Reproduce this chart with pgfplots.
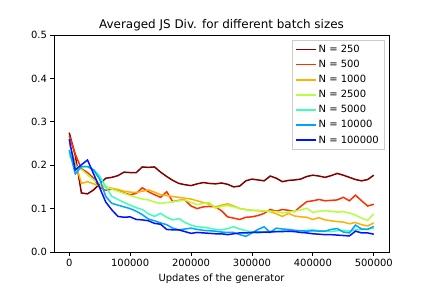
\documentclass[border=0pt]{standalone}
\usepackage{fontspec}
\setmainfont{DejaVu Sans}
\usepackage{pgfplots}
\pgfplotsset{compat=1.18}
\usepackage{pgfplotstable}
\definecolor{jetA}{rgb}{0.5,0,0}
\definecolor{jetB}{rgb}{1,0.19,0}
\definecolor{jetC}{rgb}{1,0.69,0}
\definecolor{jetD}{rgb}{0.71,1,0.25}
\definecolor{jetE}{rgb}{0.25,1,0.71}
\definecolor{jetF}{rgb}{0,0.64,1}
\definecolor{jetG}{rgb}{0,0.07,1}
\definecolor{legframe}{rgb}{0.8,0.8,0.8}
\pgfplotstableread{
x a b c d e f g
0 .275 .268 .250 .223 .230 .235 .260
10000 .222 .225 .205 .197 .197 .180 .189
20000 .136 .192 .158 .190 .197 .197 .201
30000 .134 .183 .162 .178 .197 .197 .212
40000 .143 .170 .157 .166 .190 .189 .180
50000 .157 .149 .152 .158 .175 .168 .148
60000 .170 .142 .150 .150 .150 .128 .115
70000 .172 .145 .147 .145 .128 .112 .097
80000 .176 .142 .144 .140 .121 .108 .082
90000 .184 .136 .140 .135 .114 .104 .080
100000 .183 .132 .138 .130 .108 .100 .081
110000 .183 .135 .137 .126 .102 .094 .075
120000 .196 .148 .140 .122 .098 .086 .074
130000 .195 .139 .143 .120 .088 .076 .072
140000 .196 .132 .138 .115 .082 .072 .066
150000 .184 .126 .132 .112 .089 .067 .064
160000 .174 .139 .130 .114 .080 .063 .052
170000 .165 .116 .128 .116 .074 .055 .051
180000 .158 .119 .126 .118 .077 .051 .051
190000 .155 .120 .124 .120 .068 .053 .047
200000 .153 .106 .122 .114 .062 .055 .043
210000 .157 .100 .118 .109 .058 .052 .045
220000 .160 .104 .114 .112 .057 .050 .044
230000 .158 .105 .110 .114 .055 .049 .043
240000 .157 .104 .104 .101 .052 .048 .042
250000 .159 .095 .108 .105 .051 .046 .042
260000 .156 .081 .111 .107 .054 .045 .040
270000 .150 .078 .106 .104 .058 .045 .042
280000 .152 .075 .100 .100 .053 .040 .044
290000 .164 .080 .098 .097 .049 .036 .044
300000 .168 .081 .096 .096 .046 .044 .045
310000 .166 .084 .095 .096 .043 .052 .046
320000 .164 .089 .094 .095 .046 .058 .046
330000 .175 .098 .093 .094 .048 .045 .046
340000 .170 .094 .088 .093 .047 .055 .047
350000 .162 .098 .082 .090 .049 .053 .047
360000 .165 .096 .089 .092 .047 .052 .048
370000 .166 .093 .083 .094 .048 .050 .047
380000 .168 .105 .081 .097 .049 .049 .045
390000 .174 .116 .080 .101 .050 .048 .044
400000 .177 .118 .075 .091 .051 .049 .042
410000 .175 .121 .079 .094 .049 .048 .041
420000 .172 .118 .074 .095 .048 .048 .040
430000 .176 .119 .072 .094 .047 .052 .040
440000 .181 .120 .070 .092 .049 .054 .039
450000 .177 .126 .069 .093 .050 .046 .038
460000 .172 .118 .065 .090 .048 .044 .037
470000 .167 .131 .068 .085 .051 .062 .048
480000 .164 .118 .063 .078 .052 .053 .044
490000 .167 .106 .060 .073 .053 .052 .044
500000 .177 .110 .067 .088 .055 .059 .041
}\datatable
\begin{document}
\begin{tikzpicture}
\begin{axis}[
  scale only axis,
  width=335bp, height=217bp,
  xmin=-25000, xmax=525000,
  ymin=0, ymax=0.5,
  xtick={0,100000,200000,300000,400000,500000},
  ytick={0,0.1,0.2,0.3,0.4,0.5},
  scaled x ticks=false,
  scaled y ticks=false,
  x tick label style={/pgf/number format/.cd,fixed,1000 sep={}},
  y tick label style={/pgf/number format/.cd,fixed,fixed zerofill,precision=1},
  /pgf/number format/assume math mode=true,
  tick align=outside,
  major tick length=3.5bp,
  xtick pos=bottom, ytick pos=left,
  tick style={black, line width=0.8bp},
  axis line style={line width=0.8bp},
  title={Averaged JS Div. for different batch sizes},
  title style={font=\large, yshift=-5bp},
  xlabel={Updates of the generator},
  xlabel style={yshift=-1bp},
  legend cell align=left,
  legend style={at={(1,1)}, anchor=north east, xshift=-5bp, yshift=-5bp,
    draw=legframe, fill=white, row sep=2.2bp, inner sep=3bp},
  legend image code/.code={\draw[#1] (0bp,0bp) -- (20bp,0bp);},
]
\addlegendimage{draw=jetA, line width=1.5bp}
\addlegendentry{N = 250}
\addlegendimage{draw=jetB, line width=1.5bp}
\addlegendentry{N = 500}
\addlegendimage{draw=jetC, line width=1.5bp}
\addlegendentry{N = 1000}
\addlegendimage{draw=jetD, line width=1.5bp}
\addlegendentry{N = 2500}
\addlegendimage{draw=jetE, line width=1.5bp}
\addlegendentry{N = 5000}
\addlegendimage{draw=jetF, line width=1.5bp}
\addlegendentry{N = 10000}
\addlegendimage{draw=jetG, line width=1.5bp}
\addlegendentry{N = 100000}
\addplot[color=jetA, line width=1.5bp, forget plot] table[x=x,y=a] {\datatable};
\addplot[color=jetB, line width=1.5bp, forget plot] table[x=x,y=b] {\datatable};
\addplot[color=jetC, line width=1.5bp, forget plot] table[x=x,y=c] {\datatable};
\addplot[color=jetD, line width=1.5bp, forget plot] table[x=x,y=d] {\datatable};
\addplot[color=jetE, line width=1.5bp, forget plot] table[x=x,y=e] {\datatable};
\addplot[color=jetF, line width=1.5bp, forget plot] table[x=x,y=f] {\datatable};
\addplot[color=jetG, line width=1.5bp, forget plot] table[x=x,y=g] {\datatable};
\end{axis}
\path[use as bounding box] (current axis.south west) ++(-54bp,-36bp) rectangle ++(432bp,288bp);
\end{tikzpicture}
\end{document}
